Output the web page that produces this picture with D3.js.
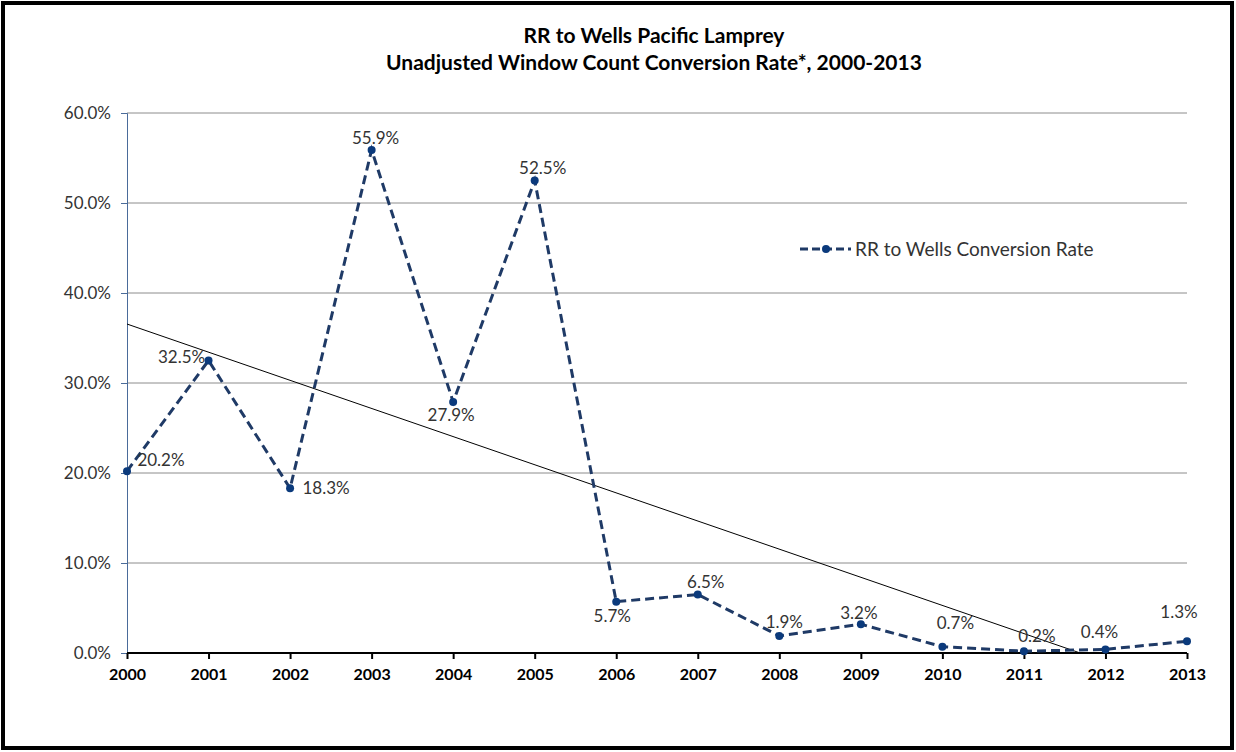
<!DOCTYPE html>
<html><head><meta charset="utf-8">
<script src="https://cdn.jsdelivr.net/npm/d3@7"></script>
<style>
html,body{margin:0;padding:0;background:#fff;}
text{font-family:Lato,"Open Sans",sans-serif;}
</style></head>
<body><svg id="c" width="1236" height="752"></svg>
<script>
const years = ["2000","2001","2002","2003","2004","2005","2006","2007","2008","2009","2010","2011","2012","2013"];
const rates = [20.2,32.5,18.3,55.9,27.9,52.5,5.7,6.5,1.9,3.2,0.7,0.2,0.4,1.3];
const yTicks = [0,10,20,30,40,50,60];
const titleLines = ["RR to Wells Pacific Lamprey","Unadjusted Window Count Conversion Rate*, 2000-2013"];
const seriesName = "RR to Wells Conversion Rate";
// label placement offsets (layout only)
const labelDx = [34,-27,36,4,-2,8,-4,8,5,-2,13,13,-6,-8];
const labelDy = [-11,-3,0,-12,13,-12,14,-12,-14,-11,-24,-15,-17,-29];

(function(){
const svg = d3.select("#c");
const W=1236,H=752;
svg.append("rect").attr("x",3).attr("y",3).attr("width",W-7).attr("height",H-7)
  .attr("fill","#fff").attr("stroke","#000").attr("stroke-width",4);

const pL=127,pR=1187,pT=113,pB=653;
const x = d3.scalePoint().domain(years).range([pL,pR]);
const y = d3.scaleLinear().domain([0,60]).range([pB,pT]);

// title
svg.append("g").selectAll("text").data(titleLines).join("text")
  .attr("x",654).attr("y",(d,i)=>43+i*27).attr("text-anchor","middle")
  .attr("font-size",21).attr("font-weight","bold").attr("fill","#000").text(d=>d);

// gridlines
svg.append("g").selectAll("line").data(yTicks.filter(d=>d>0)).join("line")
  .attr("x1",pL).attr("x2",pR).attr("y1",d=>y(d)).attr("y2",d=>y(d))
  .attr("stroke","#8c8c8c").attr("stroke-width",1);

// y axis
const ya = svg.append("g").attr("transform",`translate(${pL},0)`)
  .call(d3.axisLeft(y).tickValues(yTicks).tickSize(6).tickPadding(10).tickFormat(d=>d3.format(".1f")(d)+"%"));
ya.select(".domain").attr("stroke","#4a6b9a");
ya.selectAll(".tick line").attr("stroke","#4a6b9a");
ya.selectAll("text").attr("font-size",17).attr("fill","#333").attr("font-family","Lato,sans-serif");

// x axis
const xa = svg.append("g").attr("transform",`translate(0,${pB})`)
  .call(d3.axisBottom(x).tickSize(6).tickPadding(10));
xa.select(".domain").attr("stroke","#000").attr("stroke-width",2).attr("d",`M${pL},0H${pR}`);
xa.selectAll(".tick line").attr("stroke","#000").attr("stroke-width",2);
xa.selectAll("text").attr("font-size",16).attr("font-weight","bold").attr("fill","#000").attr("font-family","Lato,sans-serif");

// trend line (least squares), clipped at 0
const n = rates.length, xs = d3.range(n);
const mx = d3.mean(xs), my = d3.mean(rates);
const slope = d3.sum(xs.map((v,i)=>(v-mx)*(rates[i]-my)))/d3.sum(xs.map(v=>(v-mx)*(v-mx)));
const icpt = my - slope*mx;
const xi = d3.scaleLinear().domain([0,n-1]).range([pL,pR]);
const xEnd = Math.min(n-1, -icpt/slope);
svg.append("line").attr("x1",xi(0)).attr("y1",y(icpt))
  .attr("x2",xi(xEnd)).attr("y2",y(Math.max(0,icpt+slope*xEnd)))
  .attr("stroke","#000").attr("stroke-width",1);

// series
const navy="#1f3a66", mark="#0b3a7c";
svg.append("path").datum(rates)
  .attr("d",d3.line().x((d,i)=>x(years[i])).y(d=>y(d)))
  .attr("fill","none").attr("stroke",navy).attr("stroke-width",3).attr("stroke-dasharray","9,5");
svg.append("g").selectAll("circle").data(rates).join("circle")
  .attr("cx",(d,i)=>x(years[i])).attr("cy",d=>y(d)).attr("r",4).attr("fill",mark);

// data labels
svg.append("g").selectAll("text").data(rates).join("text")
  .attr("x",(d,i)=>x(years[i])+labelDx[i]).attr("y",(d,i)=>y(d)+labelDy[i])
  .attr("dy","0.35em").attr("text-anchor","middle").attr("font-size",17).attr("fill","#333")
  .text(d=>d3.format(".1f")(d)+"%");

// legend
const lg = svg.append("g");
lg.append("line").attr("x1",800).attr("x2",851).attr("y1",249).attr("y2",249)
  .attr("stroke",navy).attr("stroke-width",3).attr("stroke-dasharray","8,4");
lg.append("circle").attr("cx",826).attr("cy",249).attr("r",4).attr("fill",mark);
lg.append("text").attr("x",855).attr("y",249).attr("dy","0.35em").attr("font-size",19).attr("fill","#333").text(seriesName);
})();
</script></body></html>
